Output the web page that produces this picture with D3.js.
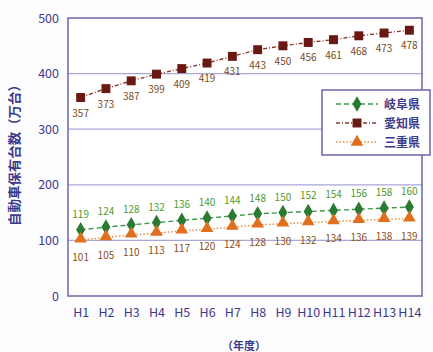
<!DOCTYPE html>
<html>
<head>
<meta charset="utf-8">
<script src="https://cdn.jsdelivr.net/npm/d3@7"></script>
<style>
  html, body { margin: 0; padding: 0; background: #fdfcff; }
  svg { display: block; }
  text { font-family: "Noto Sans CJK JP", "Noto Sans", sans-serif; }
</style>
</head>
<body>
<svg id="chart" width="433" height="352"></svg>
<script>
// Registered vehicles (10,000 units), fiscal years H1–H14
const years = ["H1","H2","H3","H4","H5","H6","H7","H8","H9","H10","H11","H12","H13","H14"];
const gifu  = [119,124,128,132,136,140,144,148,150,152,154,156,158,160];
const aichi = [357,373,387,399,409,419,431,443,450,456,461,468,473,478];
const mie   = [101,105,110,113,117,120,124,128,130,132,134,136,138,139];
const yTicks = [0,100,200,300,400,500];

const series = [
  { name: "岐阜県", values: gifu,  line: "#3a9a48", dash: "5,3",   mark: "#2b7a33", shape: d3.symbolDiamond,  size: 70, label: "#4f9a2a", dy: -12 },
  { name: "愛知県", values: aichi, line: "#8a3a2a", dash: "4,2,1,2", mark: "#6a1812", shape: d3.symbolSquare,   size: 80, label: "#7a4a1c", dy: 19 },
  { name: "三重県", values: mie,   line: "#ee8a3a", dash: "1.5,2", mark: "#e0701e", shape: d3.symbolTriangle, size: 70, label: "#8a4f1c", dy: 21 }
];

const svg = d3.select("#chart");
const m = { left: 68, right: 422, top: 18, bottom: 296 };

const x = d3.scalePoint().domain(years).range([m.left, m.right]).padding(0.5);
const y = d3.scaleLinear().domain([0, 500]).range([m.bottom, m.top]);

// plot background and grid
svg.append("rect").attr("x", m.left).attr("y", m.top)
  .attr("width", m.right - m.left).attr("height", m.bottom - m.top)
  .attr("fill", "#ffffff");

svg.append("g").selectAll("line").data(yTicks.filter(t => t > 0 && t < 500)).join("line")
  .attr("x1", m.left).attr("x2", m.right)
  .attr("y1", d => y(d)).attr("y2", d => y(d))
  .attr("stroke", "#a9a6d8").attr("stroke-width", 1.2);

svg.append("rect").attr("x", m.left).attr("y", m.top)
  .attr("width", m.right - m.left).attr("height", m.bottom - m.top)
  .attr("fill", "none").attr("stroke", "#6a66a8").attr("stroke-width", 1.5);

// y axis labels
const yAxis = svg.append("g").attr("transform", `translate(${m.left},0)`)
  .call(d3.axisLeft(y).tickValues(yTicks).tickSize(0).tickPadding(9));
yAxis.select(".domain").remove();
yAxis.selectAll("text").attr("fill", "#3c3a8a").attr("font-size", 12.5)
  .attr("font-family", "Liberation Sans, Arial, sans-serif");

// x axis labels
const xAxis = svg.append("g").attr("transform", `translate(0,${m.bottom})`)
  .call(d3.axisBottom(x).tickSize(0).tickPadding(12));
xAxis.select(".domain").remove();
xAxis.selectAll("text").attr("fill", "#3c3a8a").attr("font-size", 12)
  .attr("font-family", "Liberation Sans, Arial, sans-serif")
  .attr("textLength", 23).attr("lengthAdjust", "spacingAndGlyphs")
  .each(function(d) { if (d.length < 3) d3.select(this).attr("textLength", 16); });

// axis titles
svg.append("text")
  .attr("transform", "translate(19,152) rotate(-90)")
  .attr("text-anchor", "middle").attr("fill", "#3c3a8a")
  .attr("font-size", 13).attr("font-weight", "bold")
  .attr("textLength", 148).attr("lengthAdjust", "spacingAndGlyphs")
  .text("自動車保有台数（万台）");

svg.append("text")
  .attr("x", 244).attr("y", 350).attr("text-anchor", "middle")
  .attr("fill", "#3c3a8a").attr("font-size", 11).attr("font-weight", "bold")
  .text("（年度）");

// series lines, markers, value labels
const line = d3.line().x((d, i) => x(years[i])).y(d => y(d));

series.forEach(s => {
  const g = svg.append("g");
  g.append("path").datum(s.values).attr("d", line)
    .attr("fill", "none").attr("stroke", s.line).attr("stroke-width", 1.4)
    .attr("stroke-dasharray", s.dash);
  g.selectAll("path.mk").data(s.values).join("path").attr("class", "mk")
    .attr("d", d3.symbol().type(s.shape).size(s.size))
    .attr("transform", (d, i) => `translate(${x(years[i])},${y(d) + (s.shape === d3.symbolTriangle ? -1 : 0)})`)
    .attr("fill", s.mark);
  g.selectAll("text").data(s.values).join("text")
    .attr("x", (d, i) => x(years[i]))
    .attr("y", d => y(d) + s.dy)
    .attr("text-anchor", "middle").attr("fill", s.label)
    .attr("font-size", 10).attr("font-family", "Liberation Sans, Arial, sans-serif")
    .text(d => d);
});

// legend
const lg = svg.append("g").attr("transform", "translate(322,90)");
lg.append("rect").attr("width", 108).attr("height", 65)
  .attr("fill", "#ffffff").attr("stroke", "#6a66a8").attr("stroke-width", 1.5);
series.forEach((s, i) => {
  const yy = 14 + i * 19;
  lg.append("line").attr("x1", 14).attr("x2", 56).attr("y1", yy).attr("y2", yy)
    .attr("stroke", s.line).attr("stroke-width", 1.4).attr("stroke-dasharray", s.dash);
  lg.append("path").attr("d", d3.symbol().type(s.shape).size(s.size))
    .attr("transform", `translate(35,${yy})`).attr("fill", s.mark);
  lg.append("text").attr("x", 62).attr("y", yy + 4.5)
    .attr("fill", "#3c3a8a").attr("font-size", 12).attr("font-weight", "bold")
    .text(s.name);
});
</script>
</body>
</html>
